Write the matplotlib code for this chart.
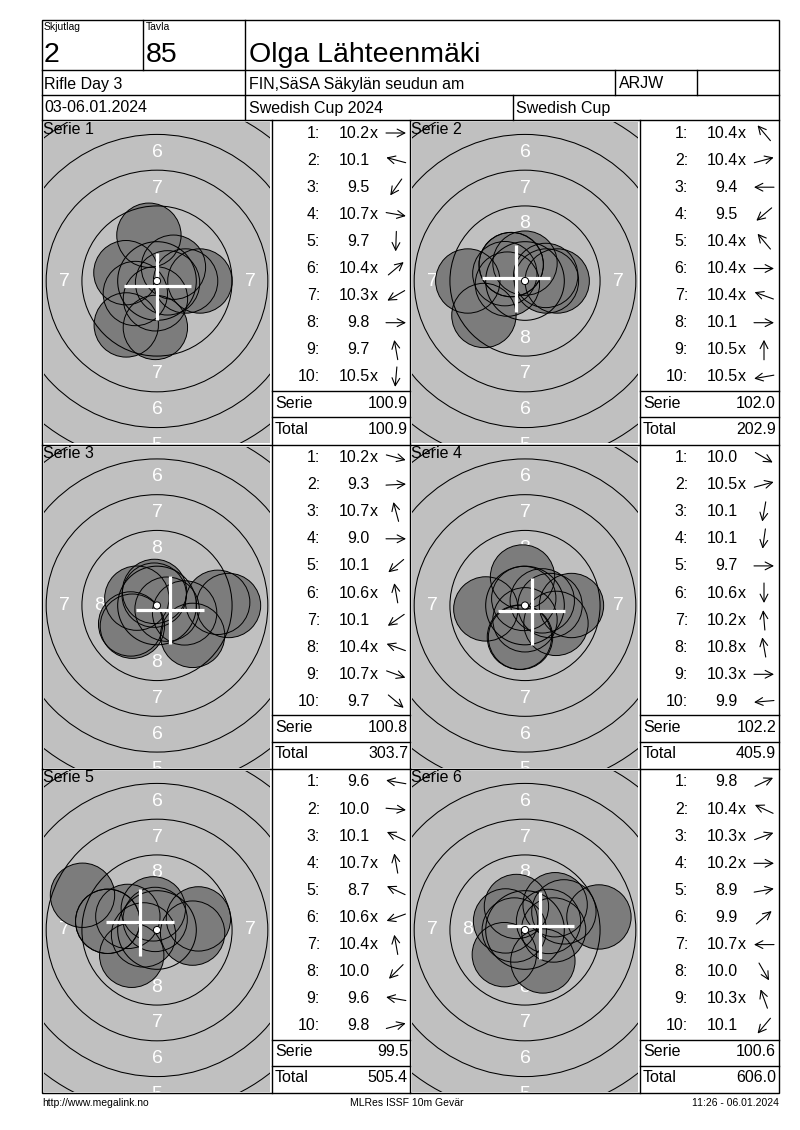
import numpy as np
import matplotlib.pyplot as plt
from matplotlib.patches import Circle, Rectangle

plt.rcParams['font.family'] = ['Liberation Sans', 'DejaVu Sans']

W, H = 800, 1130

# header
shooter = "Olga Lähteenmäki"
relay = "2"
lane = "85"
event = "Rifle Day 3"
club = "FIN,SäSA Säkylän seudun am"
klass = "ARJW"
dates = "03-06.01.2024"
competition = "Swedish Cup 2024"
cup = "Swedish Cup"

# shot values and arrow direction (degrees, counter-clockwise from right)
shots_1 = ["10.2x", "10.1", "9.5", "10.7x", "9.7", "10.4x", "10.3x", "9.8", "9.7", "10.5x"]
angles_1 = [0, 165, 235, 350, 268, 40, 210, 0, 100, 265]
shots_2 = ["10.4x", "10.4x", "9.4", "9.5", "10.4x", "10.4x", "10.4x", "10.1", "10.5x", "10.5x"]
angles_2 = [130, 15, 180, 220, 130, 0, 160, 0, 90, 190]
shots_3 = ["10.2x", "9.3", "10.7x", "9.0", "10.1", "10.6x", "10.1", "10.4x", "10.7x", "9.7"]
angles_3 = [345, 3, 105, 0, 220, 100, 215, 160, 340, 320]
shots_4 = ["10.0", "10.5x", "10.1", "10.1", "9.7", "10.6x", "10.2x", "10.8x", "10.3x", "9.9"]
angles_4 = [330, 15, 260, 262, 0, 270, 95, 100, 0, 185]
shots_5 = ["9.6", "10.0", "10.1", "10.7x", "8.7", "10.6x", "10.4x", "10.0", "9.6", "9.8"]
angles_5 = [170, 355, 155, 100, 155, 200, 100, 225, 170, 15]
shots_6 = ["9.8", "10.4x", "10.3x", "10.2x", "8.9", "9.9", "10.7x", "10.0", "10.3x", "10.1"]
angles_6 = [25, 155, 20, 0, 10, 40, 180, 300, 110, 230]

series_shots = [shots_1, shots_2, shots_3, shots_4, shots_5, shots_6]
series_angles = [angles_1, angles_2, angles_3, angles_4, angles_5, angles_6]

footer_left = "http://www.megalink.no"
footer_mid = "MLRes ISSF 10m Gevär"
footer_right = "11:26 - 06.01.2024"

SCALE = 14.3          # px per mm
ring_r = [22.75 - 2.5 * (n - 1) for n in range(1, 10)]   # ring 1..9 radius, mm
PELLET = 2.25

fig = plt.figure(figsize=(8, 11.3), dpi=100)


def px_axes(x0, y0, x1, y1):
    return fig.add_axes([x0 / W, 1 - y1 / H, (x1 - x0) / W, (y1 - y0) / H])


panel_top = [120, 444.5, 769]
col_x = [42, 410]
list_x = [272, 640]

totals = []
run = 0.0
for k in range(6):
    vals = [float(s.rstrip('x')) for s in series_shots[k]]
    ssum = round(sum(vals), 1)
    run = round(run + ssum, 1)
    totals.append((ssum, run))

    r, c = k // 2, k % 2
    x0, x1 = col_x[c] + 2, col_x[c] + 228
    y0, y1 = panel_top[r] + 2, panel_top[r] + 323
    cx, cy = col_x[c] + 115, panel_top[r] + 161
    ax = px_axes(x0, y0, x1, y1)
    ax.set_facecolor('#c0c0c0')
    ax.set_xlim((x0 - cx) / SCALE, (x1 - cx) / SCALE)
    ax.set_ylim(-(y1 - cy) / SCALE, (cy - y0) / SCALE)
    ax.set_xticks([])
    ax.set_yticks([])
    for sp in ax.spines.values():
        sp.set_visible(False)

    # ring numbers
    for n in [5, 6, 7, 8]:
        rad = ring_r[n - 1] - 1.25
        for px, py in [(0, rad), (0, -rad), (-rad, 0), (rad, 0)]:
            ax.text(px, py, str(n), color='white', fontsize=14, ha='center',
                    va='center', zorder=1, clip_on=True)

    a = np.radians(series_angles[k])
    d = (11.0 - np.array(vals)) * 2.5
    xs, ys = d * np.cos(a), d * np.sin(a)
    for x, y in zip(xs, ys):
        ax.add_patch(Circle((x, y), PELLET, fc='#7c7c7c', ec='none', zorder=2))
    for x, y in zip(xs, ys):
        ax.add_patch(Circle((x, y), PELLET, fill=False, ec='black', lw=0.7, zorder=3))
    for rr in ring_r:
        ax.add_patch(Circle((0, 0), rr, fill=False, ec='black', lw=0.75, zorder=4))

    mx, my = xs.mean(), ys.mean()
    ax.plot([mx - 2.35, mx + 2.35], [my, my], color='white', lw=2.3,
            solid_capstyle='butt', zorder=5)
    ax.plot([mx, mx], [my - 2.35, my + 2.35], color='white', lw=2.3,
            solid_capstyle='butt', zorder=5)
    ax.add_patch(Circle((0, 0), 0.25, fc='white', ec='black', lw=0.7, zorder=6))

# page: lines and text on top
pg = fig.add_axes([0, 0, 1, 1])
pg.set_xlim(0, W)
pg.set_ylim(H, 0)
pg.axis('off')
pg.patch.set_alpha(0)

lw = 1.0
pg.add_patch(Rectangle((42, 20), 737, 1073, fill=False, ec='black', lw=lw))
for y in [70, 95, 120, 444.5, 769]:
    pg.plot([42, 779], [y, y], color='black', lw=lw)
pg.plot([143, 143], [20, 70], color='black', lw=lw)
pg.plot([245, 245], [20, 120], color='black', lw=lw)
pg.plot([615, 615], [70, 95], color='black', lw=lw)
pg.plot([697, 697], [70, 95], color='black', lw=lw)
pg.plot([513, 513], [95, 120], color='black', lw=lw)
for x in [272, 410, 640]:
    pg.plot([x, x], [120, 1093], color='black', lw=lw)
for t in panel_top:
    for lx in list_x:
        xr = lx + 138 if lx == 272 else 779
        pg.plot([lx, xr], [t + 270.5, t + 270.5], color='black', lw=lw)
        pg.plot([lx, xr], [t + 297, t + 297], color='black', lw=lw)

# header text
pg.text(44, 27, "Skjutlag", fontsize=7.5, va='center', ha='left')
pg.text(146, 27, "Tavla", fontsize=7.5, va='center', ha='left')
pg.text(44, 62, relay, fontsize=20.5, va='baseline', ha='left')
pg.text(146, 62, lane, fontsize=20.5, va='baseline', ha='left')
pg.text(249, 62, shooter, fontsize=20.5, va='baseline', ha='left')
fs = 11.5
pg.text(44, 84, event, fontsize=fs, va='center', ha='left')
pg.text(249, 84, club, fontsize=fs, va='center', ha='left')
pg.text(619, 84, klass, fontsize=fs, va='center', ha='left')
pg.text(44, 108, dates, fontsize=fs, va='center', ha='left')
pg.text(249, 108, competition, fontsize=fs, va='center', ha='left')
pg.text(516, 108, cup, fontsize=fs, va='center', ha='left')

# series lists
for k in range(6):
    r, c = k // 2, k % 2
    t = panel_top[r]
    lx = list_x[c]
    pg.text(col_x[c] + 1, t + 9, "Serie %d" % (k + 1), fontsize=fs, va='center', ha='left')
    for i, s in enumerate(series_shots[k]):
        y = t + 13 + 27.1 * i
        pg.text(lx + 48, y, "%d:" % (i + 1), fontsize=fs, va='center', ha='right')
        pg.text(lx + 98, y, s.rstrip('x'), fontsize=fs, va='center', ha='right')
        if s.endswith('x'):
            pg.text(lx + 98, y, "x", fontsize=fs, va='center', ha='left')
        a = np.radians(series_angles[k][i])
        ax_c = lx + 124
        dx, dy = 10 * np.cos(a), -10 * np.sin(a)
        pg.annotate('', xy=(ax_c + dx, y + dy), xytext=(ax_c - dx, y - dy),
                    arrowprops=dict(arrowstyle='->,head_length=0.55,head_width=0.28',
                                    lw=0.8, color='black', shrinkA=0, shrinkB=0))
    ssum, tot = totals[k]
    pg.text(lx + 3, t + 283, "Serie", fontsize=fs, va='center', ha='left')
    pg.text(lx + 136, t + 283, "%.1f" % ssum, fontsize=fs, va='center', ha='right')
    pg.text(lx + 3, t + 309, "Total", fontsize=fs, va='center', ha='left')
    pg.text(lx + 136, t + 309, "%.1f" % tot, fontsize=fs, va='center', ha='right')

# footer
pg.text(42, 1103, footer_left, fontsize=7.5, va='center', ha='left')
pg.text(407, 1103, footer_mid, fontsize=7.5, va='center', ha='center')
pg.text(779, 1103, footer_right, fontsize=7.5, va='center', ha='right')

fig.savefig("out.png", dpi=100)
